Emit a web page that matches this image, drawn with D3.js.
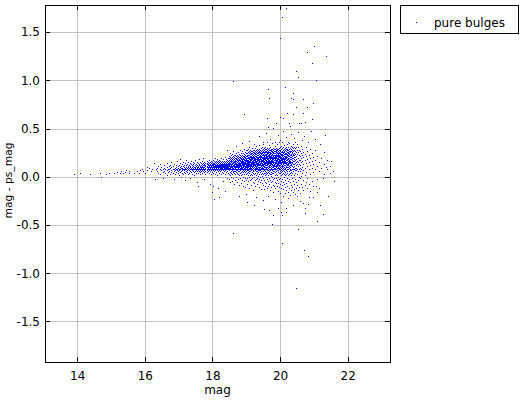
<!DOCTYPE html>
<html><head><meta charset="utf-8">
<script src="https://cdn.jsdelivr.net/npm/d3@7"></script>
<style>body{margin:0;background:#fff}svg{display:block}text{font-family:"DejaVu Sans",sans-serif}</style>
</head><body><svg id="c" width="521" height="400"></svg>
<script>
const xTicks=[14,16,18,20,22];
const yTicks=[-1.5,-1,-0.5,0,0.5,1,1.5];
const seriesName="pure bulges";
const xLabel="mag";
const yLabel="mag - ps_mag";
// faint-end tail: [mag, mag-ps_mag]
const tail=[[13.92,.025],[14.1,.03],[14.41,.025],[14.7,.03],[14.71,-.01],[14.87,.025],[14.97,.035],[15.1,.035],[15.19,.045],[15.27,.035],[15.32,.055],[15.36,.035],[15.42,.045],[15.46,.06],[15.54,.055],[15.56,.035],[15.71,.035],[15.78,.05],[15.84,.035],[15.87,.06],[15.94,.075],[15.97,.05],[16.01,.035],[16.07,.1],[16.09,.06],[16.13,.085],[16.19,.055],[16.23,.07],[16.3,.14],[16.33,-.025],[16.36,.07]];
// bright band: [mag, [values...]]
const band=[[16.38,[.05,.09]],[16.42,[.03,.11]],[16.46,[.07,.02,.13]],[16.5,[.06,.1]],[16.54,[.04,.08,-.02]],[16.58,[.09,.05,.12]],[16.62,[.03,.07]],[16.66,[.1,.06,.01,.14]],[16.7,[.08,.04]],[16.73,[.11,.05,.07]],[16.77,[.02,.09,.12]],[16.8,[.06,.1,.04,.15]],[16.84,[.08,.03,.11]],[16.87,[.05,.13,.07,-.03]],[16.9,[.09,.02,.06]],[16.94,[.12,.07,.04,.1]],[16.97,[.06,.16,.08]],[17.0,[.03,.09,.11,.05]],
[17.03,[.08,.12,.01,.06]],[17.06,[.1,.04,.14,.07,.18]],[17.09,[.05,.09,.11,-.01]],[17.12,[.07,.13,.03,.09,.06]],[17.15,[.11,.02,.08,.15]],[17.18,[.06,.1,.04,.12,.08]],[17.21,[.09,.14,.03,.07,-.04]],[17.24,[.12,.05,.1,.08,.17]],[17.27,[.04,.09,.13,.06]],[17.3,[.1,.07,.02,.15,.11,.08]],[17.33,[.06,.12,.09,.03]],[17.36,[.08,.14,.05,.11,.1,-.02]],[17.39,[.13,.07,.09,.04,.16]],[17.42,[.1,.06,.12,.02,.08]],[17.45,[.09,.15,.05,.11,.07,.13]],[17.48,[.04,.1,.08,.14,.01]],[17.51,[.12,.07,.1,.05,.17,.09]],[17.54,[.08,.13,.03,.11,.06]],[17.57,[.1,.05,.15,.09,.12,.07,-.06]],[17.6,[.06,.11,.08,.14,.03,.1]],[17.63,[.13,.09,.05,.12,.07,.18]],[17.66,[.1,.04,.08,.15,.11,.06,.02]],[17.69,[.07,.12,.09,.14,.05,.1]],
[17.72,[.11,.06,.13,.08,.03,.16,.1]],[17.75,[.09,.14,.05,.12,.07,.1,.19]],[17.78,[.12,.08,.04,.15,.1,.06,.13,-.03]],[17.81,[.07,.11,.14,.09,.02,.12,.05]],[17.84,[.1,.13,.06,.16,.08,.11,.04,.14]],[17.87,[.09,.05,.12,.07,.15,.1,.13]],[17.9,[.11,.08,.14,.03,.1,.17,.06,.12]],[17.93,[.13,.07,.1,.15,.05,.09,.12,-.08]],[17.96,[.08,.12,.06,.14,.1,.02,.16,.11]],[17.99,[.1,.15,.07,.12,.09,.13,.04]],[18.02,[.12,.06,.14,.1,.08,.17,.11,.03,.13]],[18.05,[.09,.13,.07,.11,.16,.05,.1,.14]],[18.08,[.11,.08,.15,.12,.06,.1,.19,.02,.13]],[18.11,[.14,.1,.07,.12,.09,.16,.04,.11]],[18.14,[.08,.13,.11,.06,.15,.1,.12,.18,.01]],[18.17,[.12,.09,.14,.07,.11,.05,.16,.1,-.12]],[18.2,[.1,.13,.08,.15,.11,.06,.12,.03,.17]],[18.23,[.11,.07,.14,.09,.12,.16,.05,.1,.13]],[18.26,[.13,.09,.06,.12,.15,.1,.08,.19,.02,.11]],[18.29,[.1,.14,.11,.07,.13,.04,.16,.09,.12]],[18.32,[.12,.08,.15,.1,.06,.13,.11,.18,.03,-.05]],[18.35,[.09,.14,.11,.07,.12,.16,.1,.05,.13]],[18.38,[.11,.13,.08,.15,.1,.06,.12,.2,.02,.09]],[18.41,[.14,.1,.12,.07,.16,.09,.11,.04,.13,.18]],[18.44,[.1,.12,.08,.15,.11,.05,.13,.09,.17,-.02]],[18.47,[.13,.09,.11,.14,.07,.12,.16,.03,.1,.19]]];
// dense core: [mag, [values...]]
const core=[[18.5,[.11,.15,.06,.19,.02,.13,.09,.17,-.03,.12,.21,.08,.14]],[18.53,[.1,.16,.04,.13,.2,.07,.18,.11,.01,.14,.24,.09,-.06]],[18.56,[.12,.08,.17,.03,.15,.1,.22,.05,.13,.19,-.01,.11,.16]],[18.59,[.14,.06,.11,.2,.09,.16,.02,.13,.18,.07,.23,-.05,.1]],[18.62,[.09,.15,.12,.04,.19,.07,.14,.21,.11,-.02,.17,.05,.26]],[18.65,[.13,.07,.18,.1,.15,.03,.2,.12,.08,.16,-.08,.11,.22,.05]],[18.68,[.11,.16,.05,.14,.09,.19,.02,.13,.22,.07,.17,-.04,.1,.15]],[18.71,[.08,.13,.18,.11,.04,.16,.21,.06,.14,.1,.24,-.01,.19,.12]],[18.74,[.12,.17,.06,.15,.1,.2,.03,.13,.08,.18,-.06,.22,.11,.15]],[18.77,[.1,.14,.19,.07,.16,.12,.02,.21,.09,.17,.13,-.03,.25,.05,.11]],[18.8,[.13,.08,.17,.11,.2,.05,.15,.1,.23,.01,.18,.12,-.09,.14,.07]],[18.83,[.11,.16,.06,.14,.19,.09,.22,.03,.13,.17,.08,-.02,.2,.12,.27]],[18.86,[.14,.09,.18,.12,.04,.16,.21,.07,.11,.19,.01,.15,-.07,.24,.1]],[18.89,[.1,.15,.2,.08,.13,.17,.05,.22,.12,.18,-.04,.09,.14,.26,.02,.16]],[18.92,[.13,.07,.16,.11,.21,.04,.18,.1,.14,.24,-.01,.12,.19,.06,-.1,.15]],[18.95,[.12,.17,.09,.2,.14,.05,.18,.11,.23,.02,.15,.08,.21,-.05,.13,.28]],[18.98,[.1,.15,.19,.07,.13,.22,.04,.17,.11,.25,-.02,.14,.09,.2,.16,-.11,.06]],[19.01,[.14,.08,.18,.12,.21,.05,.16,.1,.24,.02,.19,.13,-.04,.11,.27,.07,.17]],
[19.04,[.12,.17,.08,.21,.14,.03,.19,.1,.24,.06,.16,-.02,.13,.22,.09,.27,-.08,.15,.11]],[19.07,[.15,.1,.2,.06,.17,.12,.25,.01,.14,.19,.08,.22,-.05,.16,.11,.28,.04,.13]],[19.1,[.11,.18,.07,.15,.22,.13,.03,.2,.09,.26,.16,-.01,.12,.24,.05,.19,-.12,.14,.3]],[19.13,[.16,.09,.2,.13,.05,.23,.11,.18,.01,.15,.27,.07,.21,-.04,.12,.17,.25,.1]],[19.16,[.13,.19,.08,.24,.15,.02,.21,.11,.17,.06,.26,-.03,.14,.2,.09,-.09,.18,.23,.12]],[19.19,[.1,.16,.22,.07,.18,.13,.26,.04,.2,.11,.15,-.02,.24,.08,.19,.29,.01,.14]],[19.22,[.17,.12,.06,.21,.14,.25,.09,.19,.03,.16,.23,-.06,.11,.27,.15,.05,-.14,.2,.13]],[19.25,[.14,.2,.1,.24,.07,.17,.12,.27,.02,.19,.15,-.01,.22,.08,.13,.25,-.07,.18]],[19.28,[.11,.18,.23,.06,.15,.21,.13,.03,.26,.09,.19,.16,-.04,.12,.24,.07,.29,.17,-.1]],[19.31,[.16,.09,.21,.13,.25,.05,.18,.11,.23,.01,.15,.27,.08,-.03,.2,.14,.1,.31]],[19.34,[.13,.19,.07,.22,.16,.03,.26,.11,.18,.14,.24,-.02,.09,.2,.05,-.08,.17,.28,.12]],[19.37,[.18,.12,.24,.08,.2,.15,.04,.27,.1,.17,.22,-.05,.13,.25,.06,.19,0,.14]],[19.4,[.15,.21,.1,.26,.06,.18,.13,.23,.02,.16,.28,.09,-.03,.2,.12,.25,-.11,.17,.07,.32]],[19.43,[.12,.19,.24,.08,.16,.21,.04,.27,.14,.1,.22,-.01,.18,.06,.25,.13,-.06,.2]],[19.46,[.17,.11,.23,.14,.05,.2,.26,.09,.18,.02,.24,.15,-.04,.12,.29,.07,.21,-.13,.16]],[19.49,[.14,.2,.09,.25,.16,.03,.22,.12,.27,.07,.19,0,.24,.1,-.07,.17,.3,.13]],
[19.52,[.16,.11,.22,.07,.19,.25,.13,.02,.2,.15,.28,.09,-.02,.23,.17,.05,-.09,.12,.26,.18,.33]],[19.55,[.13,.2,.08,.24,.16,.03,.27,.11,.21,.18,-.04,.14,.25,.06,.19,.1,-.13,.22,.15,.29]],[19.58,[.18,.1,.23,.15,.05,.26,.12,.2,.01,.17,.28,.08,-.06,.22,.14,.25,.03,.19,-.1,.13,.3]],[19.61,[.15,.21,.09,.25,.17,.04,.23,.12,.28,.07,.19,-.01,.14,.26,.1,.22,-.07,.16,.02,.2]],[19.64,[.12,.19,.24,.08,.16,.27,.13,.03,.21,.18,-.03,.25,.1,.15,.29,.06,-.12,.2,.23,.14,.36]],[19.67,[.17,.11,.22,.14,.26,.06,.19,.24,.01,.15,.28,.09,-.05,.21,.13,.18,.04,-.1,.25,.16]],[19.7,[.14,.2,.1,.25,.17,.05,.23,.12,.29,.08,.19,-.02,.16,.27,.11,.22,-.08,.15,.03,.21,.32]],[19.73,[.19,.12,.24,.15,.07,.27,.13,.21,.02,.18,.25,-.04,.1,.23,.16,.3,-.14,.2,.06,.14]],[19.76,[.13,.21,.09,.26,.17,.04,.22,.14,.28,.07,.2,0,.16,.24,.11,-.06,.19,.27,.02,.15,-.11]],[19.79,[.16,.1,.23,.18,.06,.25,.12,.2,-.01,.15,.28,.08,.22,-.05,.17,.13,.26,.03,.19,.34]],[19.82,[.12,.2,.15,.24,.08,.18,.27,.11,.03,.22,.16,-.03,.25,.1,.19,.29,-.09,.14,.21,.05,-.16]],[19.835,[.17,.09,.22,.13,.26,.05,.19,.11,.24,-.02,.15,.28,.07,.2,-.1,.12]],[19.85,[.18,.13,.22,.07,.26,.15,.01,.2,.11,.28,.17,-.06,.24,.09,.14,.21,.04,-.12,.19,.31]],[19.88,[.14,.21,.1,.25,.17,.05,.23,.12,.29,.08,.19,-.02,.16,.26,.11,.22,-.07,.15,.02,.2,.27]],[19.91,[.17,.11,.24,.14,.06,.27,.19,.13,.22,.01,.16,.28,.09,-.04,.21,.18,.25,-.1,.12,.33]],[19.94,[.13,.2,.09,.23,.16,.04,.26,.12,.21,.18,-.01,.28,.1,.15,.24,-.07,.19,.06,-.15,.22,.14]],[19.97,[.16,.22,.11,.27,.14,.07,.2,.25,.03,.18,.12,.29,-.03,.21,.15,.09,-.11,.24,.17,.35]],
[20.0,[.12,.19,.24,.08,.17,.27,.14,.03,.21,.16,-.02,.26,.1,.2,.3,-.08,.15,.05,-.17,.23]],[20.03,[.18,.13,.22,.06,.25,.15,.01,.2,.28,.11,.17,-.05,.23,.09,.14,.31,-.12,.19,.04]],[20.06,[.15,.21,.1,.26,.17,.05,.23,.12,.29,.07,.19,-.03,.16,.25,.11,-.09,.22,.02,.18,.36]],[20.09,[.11,.18,.24,.14,.03,.27,.2,.09,.22,.16,-.06,.13,.3,.06,-.13,.19,.25,.15,-.2]],[20.12,[.17,.12,.21,.07,.25,.15,.02,.19,.28,.1,.23,-.01,.14,.18,-.08,.26,.05,.16,.32]],[20.15,[.14,.2,.09,.24,.16,.04,.27,.12,.21,.18,-.04,.29,.08,.15,-.11,.23,.01,.19,-.17]],[20.18,[.19,.13,.23,.06,.26,.15,.1,.2,.28,.02,.17,-.07,.24,.11,.3,-.14,.14,.21]],[20.21,[.15,.22,.1,.25,.17,.03,.2,.13,.28,.07,.18,-.02,.23,.12,-.1,.27,.05,.33]],[20.24,[.12,.18,.24,.08,.21,.14,.27,.01,.16,.25,-.05,.19,.1,.3,-.16,.13,.22]],[20.27,[.17,.11,.23,.15,.05,.26,.19,.09,.28,-.03,.14,.21,.02,-.12,.24,.16,.34]],[20.3,[.14,.2,.08,.25,.16,.03,.22,.12,.29,-.06,.18,.1,.26,-.19,.15,.06]],[20.33,[.18,.12,.23,.06,.26,.15,.01,.2,.28,-.09,.13,.22,.04,-.14,.31]],[20.36,[.11,.19,.24,.14,.03,.27,.17,-.02,.21,.08,.3,-.11,.15,.25]],[20.39,[.16,.1,.22,.05,.26,.13,-.05,.19,.29,.08,-.16,.23,.33]],[20.42,[.13,.2,.07,.24,.16,.01,.27,-.08,.11,.22,-.13,.18,.3]],[20.45,[.17,.09,.23,.03,.26,.14,-.03,.2,-.18,.29,.06,.36]],[20.48,[.12,.21,.06,.25,.15,-.06,.18,.3,-.12,.09]],[20.51,[.16,.08,.23,.02,.27,-.09,.13,.33,-.2]],[20.54,[.11,.19,.05,.25,-.04,.15,.3,-.14]],[20.57,[.17,.07,.22,-.01,.27,-.11,.13]],
[20.6,[.12,.17,.05,.21,-.02,.09,.26,-.17]],[20.63,[.15,.07,.19,0,.24,-.08,.31]],[20.66,[.1,.16,.03,.22,-.11,.28]],[20.7,[.13,.06,.2,-.04,.25,-.14]],[20.74,[.09,.17,.01,.23,-.09]],[20.78,[.14,.04,.21,-.06,.3]],[20.82,[.11,.18,-.02,.26,-.12]],[20.86,[.07,.15,.22,-.08]],[20.9,[.12,.02,.19,.28,-.15]],[20.95,[.09,.16,-.05,.24]],[21.0,[.13,.04,.2,-.1]],[21.05,[.07,.17,.27]],[21.1,[.11,-.03,.21]],[21.16,[.05,.15,-.12]],[21.22,[.09,.19]],[21.3,[.02,.13,.25]],[21.4,[.08,.17]],[21.48,[.11,.03]]];
// scattered points: [mag, mag-ps_mag]
const scattered=[[18.45,.27],[18.7,.31],[18.9,.34],[19.1,.37],[19.25,.33],[19.4,.42],[19.5,.36],[19.6,.45],[19.72,.39],[19.8,.5],[19.86,.36],[19.95,.43],[20.02,.38],[20.1,.47],[20.2,.41],[20.26,.36],[20.35,.44],[20.44,.4],[20.55,.46],[20.65,.38],[20.72,.42],[20.85,.35],[20.93,.47],[21.05,.39],[21.2,.33],[21.35,.43],[20.3,.52],[19.9,.55],
[18.4,-.15],[18.8,-.2],[19.0,-.18],[19.3,-.22],[19.5,-.25],[19.65,-.2],[19.85,-.24],[20.05,-.27],[20.25,-.23],[20.4,-.3],[20.6,-.26],[20.75,-.33],[21.0,-.22],[21.2,-.3],[21.42,-.2],[17.6,-.1],[18.0,-.16],[18.2,-.22],[18.02,-.1],[18.05,-.24],
[20.2,1.74],[20.06,1.65],[20.0,1.43],[21.01,1.35],[20.8,1.29],[21.36,1.25],[20.95,1.17],[20.5,1.09],[20.53,1.03],[21.08,1.0],[18.61,.99],[19.65,.9],[20.15,.92],[19.68,.81],[20.39,.86],[20.33,.81],[20.41,.8],[20.68,.8],[20.5,.72],[20.8,.72],[20.98,.76],[20.68,.66],[20.21,.66],[20.41,.65],[18.94,.65],[19.62,.6],[20.0,.61],[20.09,.6],[20.58,.55],[20.74,.56],[20.95,.59],[19.65,.51],[20.29,.55],[20.63,.55],
[18.61,-.59],[19.79,-.49],[20.53,-.55],[20.06,-.69],[20.71,-.76],[20.83,-.83],[20.5,-1.16],[21.27,-.39],[21.11,-.46],[20.75,-.38],[20.83,-.29],[19.03,-.27],[19.23,-.3],[19.55,-.34],[19.7,-.35],[19.82,-.4],[19.96,-.33],[20.03,-.37],[20.08,-.4],[20.18,-.33],[20.19,-.37],
[21.52,.16],[21.37,.1],[21.57,.05],[21.62,-.05],[21.27,-.02],[21.08,-.1],[21.12,-.16],[20.88,-.21],[20.68,-.28]];

const L=45,R=390,T=5,B=362;
const x=d3.scaleLinear().domain([13.05,23.25]).range([L,R]);
const y=d3.scaleLinear().domain([-1.92,1.78]).range([B,T]);
const svg=d3.select("#c");
svg.append("rect").attr("width",521).attr("height",400).attr("fill","#fff");

// grid
const g=svg.append("g").attr("shape-rendering","crispEdges");
g.append("g").attr("transform",`translate(0,${B})`)
 .call(d3.axisBottom(x).tickValues(xTicks).tickSize(-(B-T)).tickFormat(""))
 .call(s=>{s.select(".domain").remove();s.selectAll("line").attr("stroke","#c0c0c0");});
g.append("g").attr("transform",`translate(${L},0)`)
 .call(d3.axisLeft(y).tickValues(yTicks).tickSize(-(R-L)).tickFormat(""))
 .call(s=>{s.select(".domain").remove();s.selectAll("line").attr("stroke","#c0c0c0");});

// points
const flat=grp=>grp.flatMap(([m,vs])=>vs.map(v=>[m,v]));
const pts=[...tail,...flat(band),...flat(core),...scattered];
svg.append("g").attr("fill","#0000ff").attr("shape-rendering","crispEdges")
 .selectAll("rect").data(pts).join("rect")
 .attr("x",d=>Math.floor(x(d[0]))).attr("y",d=>Math.floor(y(d[1])))
 .attr("width",1).attr("height",1);

// axes with inward ticks
const ax=svg.append("g").attr("shape-rendering","crispEdges");
const fmtY=d=>d.toFixed(1);
function style(s){s.select(".domain").remove();s.selectAll("line").attr("stroke","#000");s.selectAll("text").attr("fill","#000").style("font-family","'DejaVu Sans',sans-serif").style("font-size","12px");}
ax.append("g").attr("transform",`translate(0,${B})`)
 .call(d3.axisBottom(x).tickValues(xTicks).tickSize(-5).tickPadding(9).tickFormat(d3.format("d"))).call(style);
ax.append("g").attr("transform",`translate(0,${T})`)
 .call(d3.axisTop(x).tickValues(xTicks).tickSize(-5).tickFormat("")).call(style);
ax.append("g").attr("transform",`translate(${L},0)`)
 .call(d3.axisLeft(y).tickValues(yTicks).tickSize(-5).tickPadding(5).tickFormat(fmtY)).call(style);
ax.append("g").attr("transform",`translate(${R},0)`)
 .call(d3.axisRight(y).tickValues(yTicks).tickSize(-5).tickFormat("")).call(style);
ax.append("rect").attr("x",L+0.5).attr("y",T+0.5).attr("width",R-L).attr("height",B-T)
 .attr("fill","none").attr("stroke","#000").attr("shape-rendering","auto");

// axis titles
svg.append("text").attr("x",(L+R)/2).attr("y",394).attr("text-anchor","middle")
 .style("font-size","12px").text(xLabel);
svg.append("text").attr("transform",`translate(11.5,${(T+B)/2-3}) rotate(-90)`).attr("text-anchor","middle")
 .style("font-size","11px").attr("textLength",76).attr("lengthAdjust","spacingAndGlyphs").text(yLabel);

// legend
const lg=svg.append("g");
lg.append("rect").attr("x",400.5).attr("y",5.5).attr("width",118).attr("height",28)
 .attr("fill","#fff").attr("stroke","#000");
lg.append("rect").attr("x",416).attr("y",22).attr("width",1).attr("height",1).attr("fill","#0000ff");
lg.append("text").attr("x",434).attr("y",26.5).style("font-size","12px").text(seriesName);
</script></body></html>
